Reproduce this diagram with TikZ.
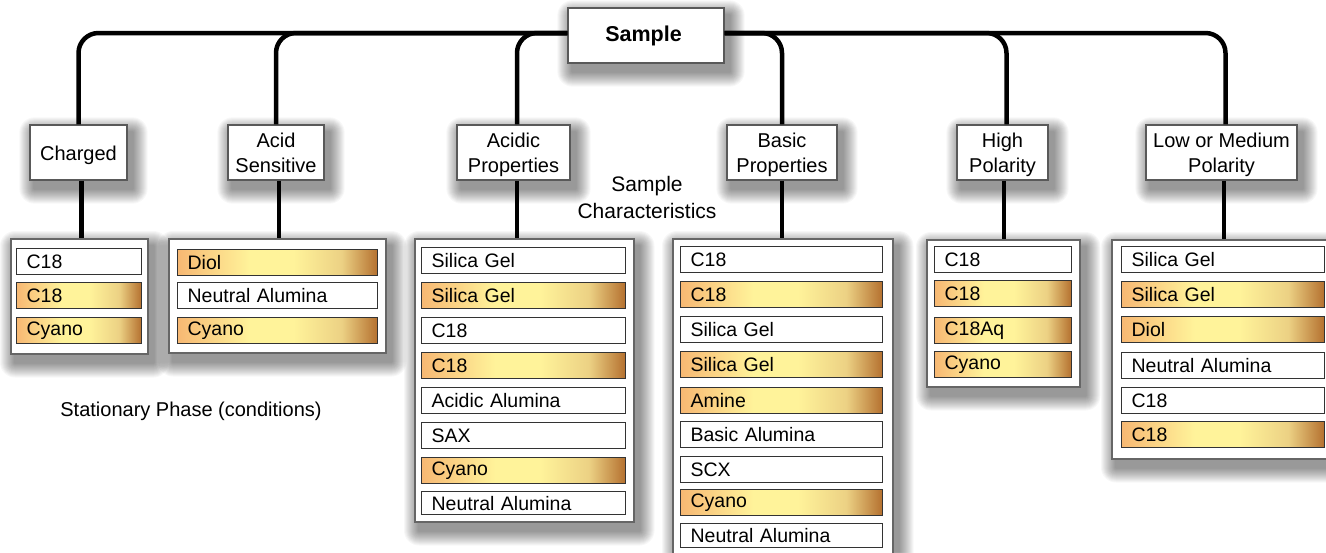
\documentclass[tikz,border=0pt]{standalone}
\usepackage{fontspec}
\setmainfont{Liberation Sans}
\definecolor{gA}{HTML}{F7B873}
\definecolor{gB}{HTML}{FFF39A}
\definecolor{gC}{HTML}{ECD184}
\definecolor{gD}{HTML}{B4702F}
\pgfdeclarehorizontalshading{goldsh}{100bp}{color(0bp)=(gA); color(25bp)=(gA); color(43bp)=(gB); color(54bp)=(gB); color(66bp)=(gC); color(75bp)=(gD); color(100bp)=(gD)}
\pgfdeclarelayer{shadowlayer}
\pgfsetlayers{shadowlayer,main}
\newcommand\fsn{\fontsize{19.5}{24}\selectfont}
\newcommand\fsh{\fontsize{20}{25}\selectfont}
\newcommand\hd[1]{\raisebox{-2.5pt}[\height][\depth]{\begin{tabular}{@{}c@{}}#1\end{tabular}}}
\tikzset{
  head/.style={draw=black!65, line width=1.2pt, fill=white, align=center, font=\fsh, minimum height=55pt, inner sep=0pt},
  topbox/.style={draw=black!65, line width=1.2pt, fill=white, font=\fontsize{21.5}{26}\selectfont\bfseries, minimum width=156pt, minimum height=55pt, inner sep=0pt},
  listbox/.style={draw=black!60, line width=1.5pt, fill=white, anchor=north west, inner sep=0pt},
  itm/.style={draw=black!80, line width=1.2pt, anchor=north west, minimum height=#1, inner ysep=0pt, inner xsep=10pt, align=left, font=\fsn},
  itm/.default=26pt,
  wht/.style={itm=#1, fill=white},
  wht/.default=26pt,
  gld/.style={itm=#1, shading=goldsh},
  gld/.default=26pt,
  conn/.style={line width=4.5pt, rounded corners=20pt},
  lbl/.style={font=\fsh, align=center},
  shadowpiece/.style={fill=black, opacity=0.032}
}
\begin{document}
\begin{tikzpicture}[x=1pt,y=-1pt]
\useasboundingbox (0,0) rectangle (1326,552);

% top node
\node[topbox] (sample) at (646,35.5) {\hspace*{-5pt}Sample};

% headers
\node[head, minimum width=97pt] (charged) at (78.5,152.5) {\hd{Charged}};
\node[head, minimum width=96pt] (acid) at (276,152.5) {\hd{Acid\\Sensitive}};
\node[head, minimum width=113pt] (acidic) at (513.5,152.5) {\hd{Acidic\\Properties}};
\node[head, minimum width=110pt] (basic) at (782,152.5) {\hd{Basic\\Properties}};
\node[head, minimum width=91pt] (high) at (1002.5,152.5) {\hd{High\\Polarity}};
\node[head, minimum width=151pt] (low) at (1221.5,152.5) {\hd{Low or Medium\\Polarity}};

\node[lbl, font=\fontsize{21}{27}\selectfont] (charlbl) at (647,197) {Sample\\Characteristics};
\node[lbl] (statlbl) at (191,411) {Stationary Phase (conditions)};

% list boxes
\node[listbox, minimum width=137pt, minimum height=115pt] (lcharged) at (10,238) {};
\node[listbox, minimum width=217pt, minimum height=114pt] (lacid) at (168,238) {};
\node[listbox, minimum width=219pt, minimum height=283pt] (lacidic) at (414,238) {};
\node[listbox, minimum width=220pt, minimum height=330pt] (lbasic) at (672,238) {};
\node[listbox, minimum width=153pt, minimum height=147pt] (lhigh) at (926,239) {};
\node[listbox, minimum width=240pt, minimum height=219pt] (llow) at (1111,239) {};

% charged items
\node[wht, text width=105pt] (c1) at (16,248) {C18};
\node[gld, text width=105pt] (c2) at (16,282) {C18};
\node[gld, text width=105pt] (c3) at (16,317) {Cyano};

% acid sensitive items
\node[gld, text width=180pt] (a1) at (177,249) {Diol};
\node[wht, text width=180pt] (a2) at (177,282) {Neutral Alumina};
\node[gld, text width=180pt] (a3) at (177,317) {Cyano};

% acidic properties items
\node[wht, text width=184pt] (p1) at (421,247) {Silica Gel};
\node[gld, text width=184pt] (p2) at (421,282) {Silica Gel};
\node[wht, text width=184pt] (p3) at (421,317) {C18};
\node[gld, text width=184pt] (p4) at (421,352) {C18};
\node[wht, text width=184pt] (p5) at (421,387) {Acidic Alumina};
\node[wht, text width=184pt] (p6) at (421,422) {SAX};
\node[gld, text width=184pt] (p7) at (421,457) {Cyano};
\node[wht=23pt, text width=184pt] (p8) at (421,491) {Neutral Alumina};

% basic properties items
\node[wht, text width=182pt] (b1) at (680,246) {C18};
\node[gld, text width=182pt] (b2) at (680,281) {C18};
\node[wht, text width=182pt] (b3) at (680,316) {Silica Gel};
\node[gld, text width=182pt] (b4) at (680,351) {Silica Gel};
\node[gld, text width=182pt] (b5) at (680,387) {Amine};
\node[wht, text width=182pt] (b6) at (680,421) {Basic Alumina};
\node[wht, text width=182pt] (b7) at (680,456) {SCX};
\node[gld, text width=182pt] (b8) at (680,489) {Cyano};
\node[wht=24pt, text width=182pt] (b9) at (680,523) {Neutral Alumina};

% high polarity items
\node[wht, text width=117pt] (h1) at (934,246) {C18};
\node[gld, text width=117pt] (h2) at (934,280) {C18};
\node[gld, text width=117pt] (h3) at (934,317) {C18Aq};
\node[gld, text width=117pt] (h4) at (934,351) {Cyano};

% low or medium polarity items
\node[wht, text width=183pt] (m1) at (1121,246) {Silica Gel};
\node[gld, text width=183pt] (m2) at (1121,281) {Silica Gel};
\node[gld, text width=183pt] (m3) at (1121,316) {Diol};
\node[wht, text width=183pt] (m4) at (1121,352) {Neutral Alumina};
\node[wht, text width=183pt] (m5) at (1121,387) {C18};
\node[gld, text width=183pt] (m6) at (1121,421) {C18};

% soft drop shadows
\begin{pgfonlayer}{shadowlayer}
\fill[white] (0,0) rectangle (1326,552);
\foreach \n in {sample,charged,acid,acidic,basic,high,low,lcharged,lacid,lacidic,lbasic,lhigh,llow}{
  \foreach \e in {1,...,15}{
    \fill[shadowpiece, rounded corners=\e pt] ([shift={(5-\e,8-\e)}]\n.north west) rectangle ([shift={(5+\e,8+\e)}]\n.south east);
  }
}
\end{pgfonlayer}

% connectors
\draw[conn] (charged.north) |- ([yshift=2.5pt]sample.west);
\draw[conn] (acid.north) |- ([yshift=2.5pt]sample.west);
\draw[conn] ([xshift=3.5pt]acidic.north) |- ([yshift=2.5pt]sample.west);
\draw[conn] (basic.north) |- ([yshift=2.5pt]sample.east);
\draw[conn] ([xshift=4pt]high.north) |- ([yshift=2.5pt]sample.east);
\draw[conn] ([xshift=4pt]low.north) |- ([yshift=2.5pt]sample.east);

\draw[conn] ([xshift=3pt]charged.south) -- ([xshift=3pt]charged.south |- lcharged.north);
\draw[conn] ([xshift=3pt]acid.south) -- ([xshift=3pt]acid.south |- lacid.north);
\draw[conn] ([xshift=3.5pt]acidic.south) -- ([xshift=3.5pt]acidic.south |- lacidic.north);
\draw[conn] (basic.south) -- (basic.south |- lbasic.north);
\draw[conn] ([xshift=1.5pt]high.south) -- ([xshift=1.5pt]high.south |- lhigh.north);
\draw[conn] ([xshift=2.5pt]low.south) -- ([xshift=2.5pt]low.south |- llow.north);
\end{tikzpicture}
\end{document}
